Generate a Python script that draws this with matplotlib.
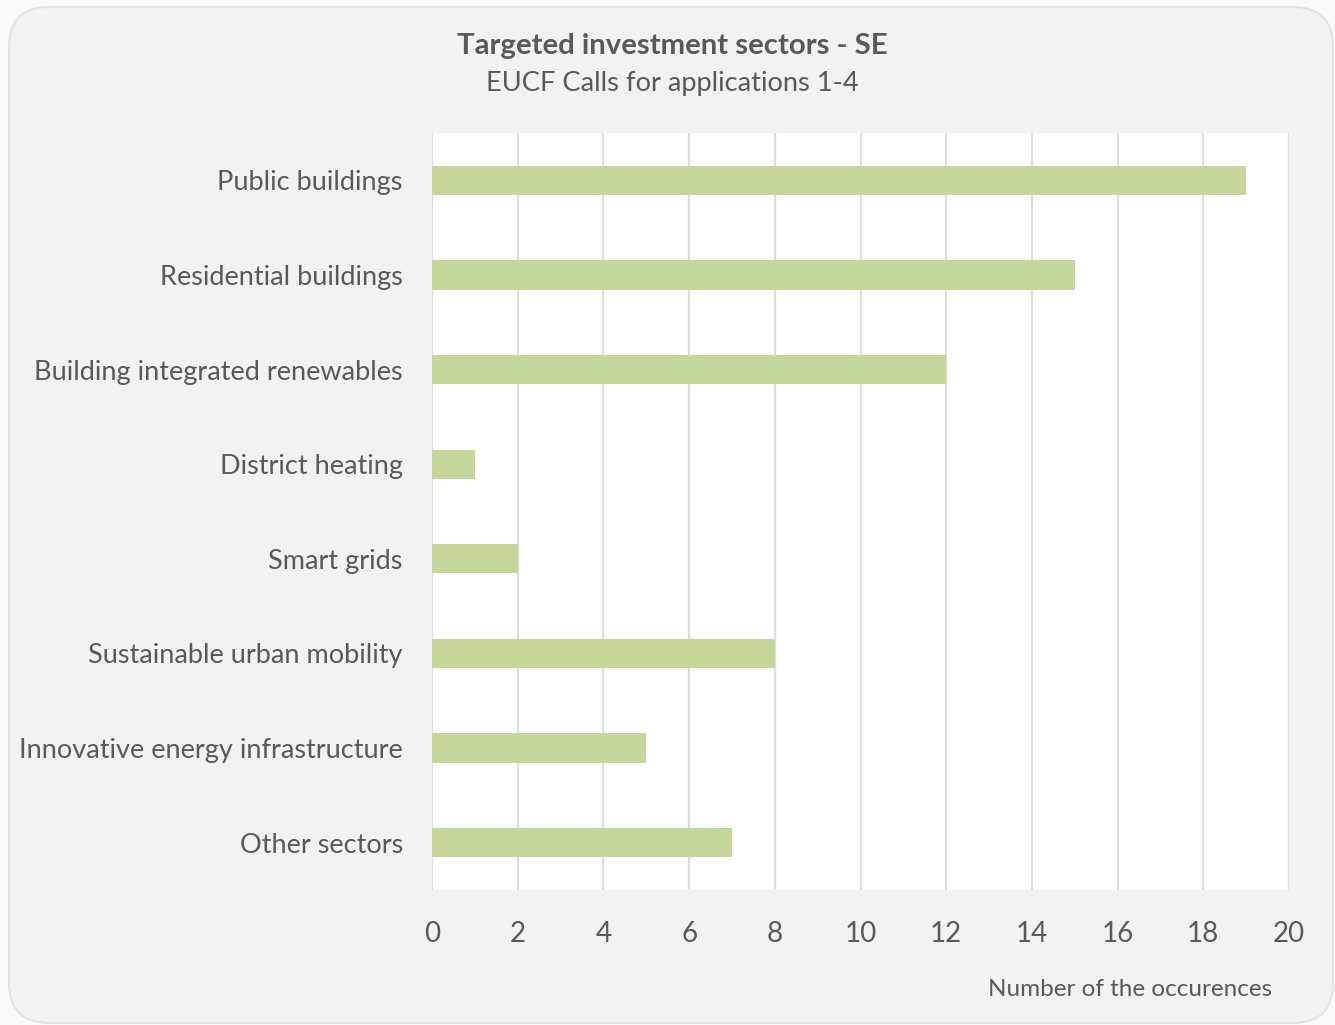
import matplotlib.pyplot as plt
from matplotlib.patches import FancyBboxPatch

categories = ["Public buildings", "Residential buildings", "Building integrated renewables",
              "District heating", "Smart grids", "Sustainable urban mobility",
              "Innovative energy infrastructure", "Other sectors"]
values = [19, 15, 12, 1, 2, 8, 5, 7]
xticks = [0, 2, 4, 6, 8, 10, 12, 14, 16, 18, 20]

bar_color = "#c4d79b"
text_color = "#595959"
plt.rcParams["font.family"] = ["Lato", "DejaVu Sans"]

fig = plt.figure(figsize=(13.35, 10.25), dpi=100)
fig.patch.set_facecolor("#fafafa")

# rounded background card
card = FancyBboxPatch((9 / 1335, 2 / 1025), 1324 / 1335, 1016 / 1025,
                      boxstyle="round,pad=0,rounding_size=0.03",
                      transform=fig.transFigure, facecolor="#f2f2f2",
                      edgecolor="#e3e3e3", lw=1.5, zorder=-5,
                      mutation_aspect=1335 / 1025)
fig.patches.append(card)

ax = fig.add_axes([432 / 1335, 1 - 890 / 1025, 857 / 1335, 757 / 1025])
ax.set_zorder(2)
ax.set_facecolor("white")

ypos = list(range(len(categories)))
ax.barh(ypos, values, height=0.31, color=bar_color, zorder=3)
ax.set_ylim(len(categories) - 0.5, -0.5)
ax.set_xlim(0, 20)
ax.set_xticks(xticks)
ax.set_yticks(ypos)
ax.set_yticklabels(categories, fontsize=19.5, color=text_color)
ax.set_xticklabels([str(t) for t in xticks], fontsize=20, color=text_color)
ax.tick_params(axis="y", length=0, pad=21)
ax.tick_params(axis="x", length=0, pad=22)
ax.grid(axis="x", color="#dedede", lw=1.6, zorder=1)
for s in ax.spines.values():
    s.set_visible(False)

fig.text(672 / 1335, 1 - 46 / 1025, "Targeted investment sectors - SE", ha="center", va="center",
         fontsize=21.2, fontweight="bold", color=text_color)
fig.text(672 / 1335, 1 - 83 / 1025, "EUCF Calls for applications 1-4", ha="center", va="center",
         fontsize=19.6, color=text_color)
fig.text(1272 / 1335, 1 - 989 / 1025, "Number of the occurences", ha="right", va="center",
         fontsize=17.5, color=text_color)

fig.savefig("out.png", dpi=100, facecolor=fig.get_facecolor())
